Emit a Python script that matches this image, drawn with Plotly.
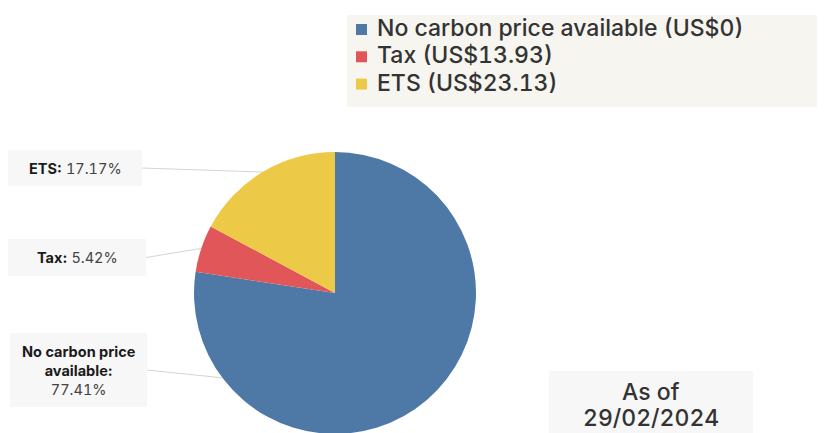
import math
import plotly.graph_objects as go

# ---- data ----
categories = ["No carbon price available", "Tax", "ETS"]
prices = ["US$0", "US$13.93", "US$23.13"]
shares = [77.41, 5.42, 17.17]
as_of = "29/02/2024"

colors = ["#4e79a7", "#e15759", "#edc948"]

W, H = 825, 433
OFF = 8  # page body margin: screen px -> figure px
CX, CY, R = 335, 293, 141
FONT = "Inter, Roboto, sans-serif"
TNUM = "font-variant-numeric:tabular-nums;font-feature-settings:'tnum'"


def px(x):
    return (x - OFF) / W


def py(y):
    return 1 - (y - OFF) / H


fig = go.Figure()
fig.add_trace(go.Pie(
    labels=[f"{c} ({p})" for c, p in zip(categories, prices)],
    values=shares,
    sort=False,
    direction="clockwise",
    rotation=0,
    textinfo="none",
    hoverinfo="label+percent",
    showlegend=False,
    marker=dict(colors=colors, line=dict(width=0)),
    domain=dict(x=[px(CX - R), px(CX + R)], y=[max(0, py(CY + R)), py(CY - R)]),
))

# ---- label boxes with connectors ----
total = sum(shares)
cum = 0
mid_angles = []
for v in shares:
    mid_angles.append((cum + v / 2) / total * 360)
    cum += v
conn_angles = [233, mid_angles[1], mid_angles[2]]
boxes = [
    dict(x0=10, x1=147, y0=333, y1=407, ty=370),
    dict(x0=8, x1=146, y0=239, y1=276, ty=257),
    dict(x0=8, x1=142, y0=150, y1=186, ty=168.5),
]
label_texts = [
    "<b>No carbon price<br>available:</b><br><span style=\"color:#444;" + TNUM + "\">{:.2f}%</span>",
    "<b>Tax:</b> <span style=\"color:#444;" + TNUM + "\">{:.2f}%</span>",
    "<b>ETS:</b> <span style=\"color:#444;" + TNUM + "\">{:.2f}%</span>",
]

shapes = []
annotations = []
for i, (b, t, ang) in enumerate(zip(boxes, label_texts, conn_angles)):
    shapes.append(dict(type="rect", xref="paper", yref="paper",
                       x0=px(b["x0"]), x1=px(b["x1"]), y0=py(b["y1"]), y1=py(b["y0"]),
                       fillcolor="#f7f7f7", line=dict(width=0), layer="below"))
    ex = CX + R * math.sin(math.radians(ang))
    ey = CY - R * math.cos(math.radians(ang))
    sy = (b["y0"] + b["y1"]) / 2
    shapes.append(dict(type="line", xref="paper", yref="paper",
                       x0=px(b["x1"]), y0=py(sy), x1=px(ex), y1=py(ey),
                       line=dict(color="#d4d4d4", width=1), layer="below"))
    annotations.append(dict(
        xref="paper", yref="paper",
        x=px((b["x0"] + b["x1"]) / 2), y=py(b["ty"]),
        xanchor="center", yanchor="middle",
        text=t.format(shares[i]), showarrow=False, align="center",
        font=dict(family=FONT, size=14.5, color="#1a1a1a"),
    ))

# ---- legend (custom, tight line spacing) ----
shapes.append(dict(type="rect", xref="paper", yref="paper",
                   x0=px(347), x1=1, y0=py(107), y1=py(15),
                   fillcolor="#f6f5ef", line=dict(width=0), layer="below"))
LEG_Y0, LEG_DY = 28, 27.3
for i, (c, p) in enumerate(zip(categories, prices)):
    yc = LEG_Y0 + i * LEG_DY
    shapes.append(dict(type="rect", xref="paper", yref="paper",
                       x0=px(356), x1=px(367), y0=py(yc + 7), y1=py(yc - 4),
                       fillcolor=colors[i], line=dict(width=0)))
    annotations.append(dict(
        xref="paper", yref="paper", x=px(375), y=py(yc),
        xanchor="left", yanchor="middle", showarrow=False,
        text=f"<span style=\"{TNUM}\">{c} ({p})</span>",
        font=dict(family=FONT, size=23, color="#333", weight=500),
    ))

# ---- as-of box ----
shapes.append(dict(type="rect", xref="paper", yref="paper",
                   x0=px(549), x1=px(753), y0=0, y1=py(371),
                   fillcolor="#f7f7f7", line=dict(width=0), layer="below"))
for txt, yc in (("As of", 392), (as_of, 418)):
    annotations.append(dict(
        xref="paper", yref="paper", x=px(651), y=py(yc),
        xanchor="center", yanchor="middle", showarrow=False,
        text=f"<span style=\"{TNUM}\">{txt}</span>",
        font=dict(family=FONT, size=23, color="#333", weight=500),
    ))

fig.update_layout(
    width=W, height=H,
    margin=dict(l=0, r=0, t=0, b=0),
    paper_bgcolor="white",
    plot_bgcolor="white",
    showlegend=False,
    shapes=shapes,
    annotations=annotations,
)

fig.write_html("out.html")
